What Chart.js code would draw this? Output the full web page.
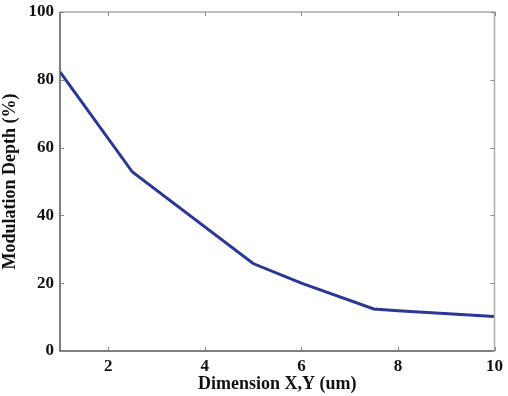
<!DOCTYPE html>
<html>
<head>
<meta charset="utf-8">
<script src="https://cdn.jsdelivr.net/npm/chart.js@4/dist/chart.umd.min.js"></script>
<style>
  body { margin: 0; background: #fff; }
  #wrap { width: 508px; height: 396px; }
</style>
</head>
<body>
<div id="wrap"><canvas id="chart"></canvas></div>
<script>
// --- data ---
const dimension = [1, 2.5, 5, 6, 7.5, 8, 10];
const modDepth = [82.3, 52.8, 25.8, 20, 12.4, 11.9, 10.2];
const xTicks = [2, 4, 6, 8, 10];
const yTicks = [0, 20, 40, 60, 80, 100];

const points = dimension.map((x, i) => ({ x: x, y: modDepth[i] }));

// box round the plot with short inward ticks
const boxTicks = {
    id: 'boxTicks',
    afterDraw(chart) {
        const { ctx, chartArea: a, scales } = chart;
        ctx.save();
        ctx.strokeStyle = '#555';
        ctx.lineWidth = 1.5;
        ctx.beginPath();
        ctx.moveTo(a.left, a.top); ctx.lineTo(a.left, a.bottom); ctx.lineTo(a.right, a.bottom);
        ctx.stroke();
        ctx.strokeStyle = '#aaa';
        ctx.beginPath();
        ctx.moveTo(a.left, a.top); ctx.lineTo(a.right, a.top); ctx.lineTo(a.right, a.bottom);
        ctx.stroke();
        ctx.strokeStyle = '#888';
        ctx.lineWidth = 1;
        ctx.beginPath();
        xTicks.forEach(v => {
            const px = Math.round(scales.x.getPixelForValue(v)) + 0.5;
            ctx.moveTo(px, a.bottom); ctx.lineTo(px, a.bottom - 4);
            ctx.moveTo(px, a.top); ctx.lineTo(px, a.top + 4);
        });
        yTicks.forEach(v => {
            const py = Math.round(scales.y.getPixelForValue(v)) + 0.5;
            ctx.moveTo(a.left, py); ctx.lineTo(a.left + 4, py);
            ctx.moveTo(a.right, py); ctx.lineTo(a.right - 4, py);
        });
        ctx.stroke();
        ctx.restore();
    }
};

const tickFont = { family: '"Liberation Serif", "DejaVu Serif", serif', weight: 'bold', size: 17 };
const titleFont = { family: '"Liberation Serif", "DejaVu Serif", serif', weight: 'bold', size: 18 };

new Chart(document.getElementById('chart'), {
    type: 'scatter',
    data: {
        datasets: [{
            data: points,
            showLine: true,
            borderColor: '#2a3796',
            borderWidth: 3,
            pointRadius: 0,
            tension: 0
        }]
    },
    options: {
        responsive: true,
        maintainAspectRatio: false,
        animation: false,
        layout: { padding: { left: 0, right: 13, top: 12, bottom: 1 } },
        plugins: { legend: { display: false }, tooltip: { enabled: false } },
        scales: {
            x: {
                type: 'linear',
                min: 1, max: 10,
                grid: { display: false, drawTicks: false },
                border: { display: false },
                afterBuildTicks: s => { s.ticks = xTicks.map(v => ({ value: v })); },
                afterFit: s => { s.height = 44; },
                ticks: { color: '#111', font: tickFont, padding: 5 },
                title: { display: true, text: 'Dimension X,Y (um)', color: '#111', font: titleFont, padding: { top: 0, bottom: 0 } }
            },
            y: {
                min: 0, max: 100,
                grid: { display: false, drawTicks: false },
                border: { display: false },
                afterBuildTicks: s => { s.ticks = yTicks.map(v => ({ value: v })); },
                afterFit: s => { s.width = 60; s.paddingTop = 0; s.paddingBottom = 0; },
                ticks: { color: '#111', font: tickFont, padding: 6 },
                title: { display: true, text: 'Modulation Depth (%)', color: '#111', font: titleFont, padding: { top: 0, bottom: 2 } }
            }
        }
    },
    plugins: [boxTicks]
});
</script>
</body>
</html>
